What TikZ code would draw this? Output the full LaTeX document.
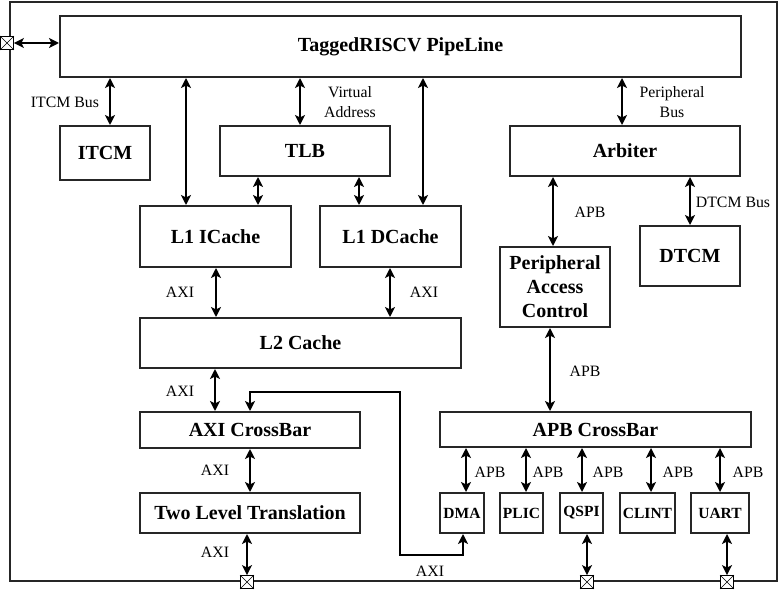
\documentclass[tikz,border=0pt]{standalone}
\usepackage{fontspec}
\setmainfont{Liberation Serif}
\usetikzlibrary{arrows.meta}
\begin{document}
\begin{tikzpicture}[x=1pt,y=-1pt,
  box/.style={draw=black!85, line width=2pt, fill=white, inner sep=0pt, font=\fontsize{20}{24}\selectfont\bfseries, align=center},
  pbox/.style={box, font=\fontsize{15.5}{19}\selectfont\bfseries},
  lbl/.style={font=\fontsize{15.8}{20}\selectfont, align=center, inner sep=0pt},
  bi/.style={line width=2pt, line join=miter, {Stealth[length=10pt,width=10pt,inset=2.5pt]}-{Stealth[length=10pt,width=10pt,inset=2.5pt]}},
  port/.style={draw, fill=white, line width=0.8pt, minimum size=13pt, inner sep=0pt},
]
\useasboundingbox (0,0) rectangle (779,591);
\draw[line width=2pt, draw=black!85] (10,2) rectangle (777,581);

% boxes
\node[box, minimum width=681pt, minimum height=61pt] (pipe) at (400.5,46.5) {TaggedRISCV PipeLine};
\node[box, minimum width=90pt, minimum height=54pt] (itcm) at (105,153) {ITCM};
\node[box, minimum width=170pt, minimum height=50pt] (tlb) at (305,151) {TLB};
\node[box, minimum width=151pt, minimum height=61pt] (l1i) at (215.5,236.5) {L1 ICache};
\node[box, minimum width=141pt, minimum height=61pt] (l1d) at (390.5,236.5) {L1 DCache};
\node[box, minimum width=230pt, minimum height=50pt] (arb) at (625,151) {Arbiter};
\node[box, minimum width=100pt, minimum height=60pt] (dtcm) at (690,256) {DTCM};
\node[box, minimum width=110pt, minimum height=80pt] (pac) at (555,287) {Peripheral\\Access\\Control};
\node[box, minimum width=321pt, minimum height=50pt] (l2) at (300.5,343) {L2 Cache};
\node[box, minimum width=220pt, minimum height=36pt] (axi) at (250,430) {AXI CrossBar};
\node[box, minimum width=311pt, minimum height=35pt] (apb) at (595.5,429.5) {APB CrossBar};
\node[box, minimum width=220pt, minimum height=40pt] (tlt) at (250,513) {Two Level Translation};
\node[pbox, minimum width=44pt, minimum height=40pt] (dma) at (462,513) {DMA};
\node[pbox, minimum width=43pt, minimum height=40pt] (plic) at (521.5,513) {PLIC};
\node[pbox, minimum width=43pt, minimum height=40pt] (qspi) at (581.5,513) {QSPI};
\node[pbox, minimum width=55pt, minimum height=40pt] (clint) at (647.5,513) {CLINT};
\node[pbox, minimum width=58pt, minimum height=40pt] (uart) at (720,513) {UART};

% ports
\foreach \n/\x/\y in {p0/7/43, p1/247/582, p2/587/582, p3/727/582}{
  \node[port] (\n) at (\x,\y) {};
  \draw[line width=0.6pt] (\n.north west) -- (\n.south east) (\n.north east) -- (\n.south west);
}

% x positions
\coordinate (xa) at (110,0);
\coordinate (xb) at (186,0);
\coordinate (xc) at (300,0);
\coordinate (xd) at (423,0);
\coordinate (xe) at (258,0);
\coordinate (xf) at (359,0);
\coordinate (xg) at (622,0);
\coordinate (xh) at (553,0);
\coordinate (xi) at (690,0);
\coordinate (xj) at (216,0);
\coordinate (xk) at (390,0);
\coordinate (xl) at (215,0);
\coordinate (xm) at (250,0);
\coordinate (xn) at (550,0);
\coordinate (q1) at (466,0);
\coordinate (q2) at (526,0);
\coordinate (q3) at (582,0);
\coordinate (q4) at (651,0);
\coordinate (q5) at (720,0);
\coordinate (xr) at (463,0);
\coordinate (r1) at (400,555);
\coordinate (r2) at (400,392);

% connectors
\draw[bi] (p0.east) -- (pipe.west |- p0.east);
\draw[bi] (pipe.south -| xa) -- (itcm.north -| xa);
\draw[bi] (pipe.south -| xb) -- (l1i.north -| xb);
\draw[bi] (pipe.south -| xc) -- (tlb.north -| xc);
\draw[bi] (pipe.south -| xd) -- (l1d.north -| xd);
\draw[bi] (tlb.south -| xe) -- (l1i.north -| xe);
\draw[bi] (tlb.south -| xf) -- (l1d.north -| xf);
\draw[bi] (pipe.south -| xg) -- (arb.north -| xg);
\draw[bi] (arb.south -| xh) -- (pac.north -| xh);
\draw[bi] (arb.south -| xi) -- (dtcm.north -| xi);
\draw[bi] (l1i.south -| xj) -- (l2.north -| xj);
\draw[bi] (l1d.south -| xk) -- (l2.north -| xk);
\draw[bi] (l2.south -| xl) -- (axi.north -| xl);
\draw[bi] (axi.south -| xm) -- (tlt.north -| xm);
\draw[bi] (tlt.south -| p1) -- (p1.north);
\draw[bi] (pac.south -| xn) -- (apb.north -| xn);
\draw[bi] (apb.south -| q1) -- (dma.north -| q1);
\draw[bi] (apb.south -| q2) -- (plic.north -| q2);
\draw[bi] (apb.south -| q3) -- (qspi.north -| q3);
\draw[bi] (apb.south -| q4) -- (clint.north -| q4);
\draw[bi] (apb.south -| q5) -- (uart.north -| q5);
\draw[bi] (qspi.south -| p2) -- (p2.north);
\draw[bi] (uart.south -| p3) -- (p3.north);
\draw[bi] (dma.south -| xr) -- (xr |- r1) -- (r1) -- (r2) -- (r2 -| xm) -- (axi.north -| xm);

% labels
\node[lbl] (lItcm) at (65,102) {ITCM Bus};
\node[lbl] (lVa) at (350,102) {Virtual\\Address};
\node[lbl] (lPb) at (672,102) {Peripheral\\Bus};
\node[lbl] (lDb) at (733,202) {DTCM Bus};
\node[lbl] (lApb1) at (590,212) {APB};
\node[lbl] (lApb2) at (585,371) {APB};
\node[lbl] (lAxi1) at (180,292) {AXI};
\node[lbl] (lAxi2) at (424,292) {AXI};
\node[lbl] (lAxi3) at (180,391) {AXI};
\node[lbl] (lAxi4) at (215,470) {AXI};
\node[lbl] (lAxi5) at (215,552) {AXI};
\node[lbl] (lAxi6) at (430,571) {AXI};
\node[lbl] (lA1) at (490,472) {APB};
\node[lbl] (lA2) at (548,472) {APB};
\node[lbl] (lA3) at (608,472) {APB};
\node[lbl] (lA4) at (678,472) {APB};
\node[lbl] (lA5) at (748,472) {APB};
\end{tikzpicture}
\end{document}
